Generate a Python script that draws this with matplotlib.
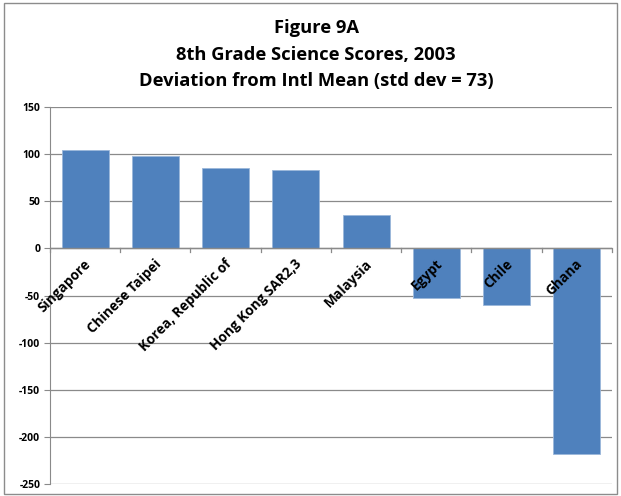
import matplotlib
matplotlib.use("Agg")
import matplotlib.pyplot as plt
from matplotlib.patches import Rectangle

countries = ["Singapore", "Chinese Taipei", "Korea, Republic of", "Hong Kong SAR2,3",
             "Malaysia", "Egypt", "Chile", "Ghana"]
deviation = [105, 98, 85, 83, 36, -52, -60, -218]
yticks = [150, 100, 50, 0, -50, -100, -150, -200, -250]
title_lines = ["Figure 9A", "8th Grade Science Scores, 2003", "Deviation from Intl Mean (std dev = 73)"]

W, H = 621, 496
fig = plt.figure(figsize=(W / 100, H / 100), dpi=100)
fig.patches.append(Rectangle((0.006, 0.004), 0.988, 0.99, transform=fig.transFigure,
                             fill=False, edgecolor="#8c8c8c", linewidth=1.0))
ax = fig.add_axes([0.0805, 0.024, 0.905, 0.760])

x = list(range(len(countries)))
ax.bar(x, deviation, width=0.67, color="#4F81BD", edgecolor="#9BB7DA", linewidth=0.6, zorder=3)
ax.set_xlim(-0.5, len(countries) - 0.5)
ax.set_ylim(-250, 150)
ax.set_yticks(yticks)
ax.set_yticklabels([str(v) for v in yticks], fontsize=7.5, fontweight="bold", family="Open Sans")
ax.grid(axis="y", color="#8a8a8a", linewidth=0.9, zorder=0)
for s in ["top", "right", "bottom"]:
    ax.spines[s].set_visible(False)
ax.spines["left"].set_color("#8a8a8a")
ax.tick_params(axis="y", length=4, color="#8a8a8a", pad=3)
ax.set_xticks([])

# zero axis with category boundary ticks
ax.axhline(0, color="#8a8a8a", linewidth=1.0, zorder=4)
for b in range(len(countries) + 1):
    ax.plot([b - 0.5, b - 0.5], [0, -4], color="#8a8a8a", linewidth=0.9, zorder=4, clip_on=False)

for i, name in enumerate(countries):
    ax.annotate(name, xy=(i, 0), xytext=(-1, -6), textcoords="offset points",
                rotation=45, ha="right", va="top", rotation_mode="anchor",
                fontsize=9.8, fontweight="bold", family="Open Sans", zorder=5)

for line, ypx in zip(title_lines, [33, 59.5, 86]):
    fig.text(0.509, 1 - ypx / H, line, ha="center", va="baseline", fontsize=13.2,
             fontweight="bold", family="Open Sans")

fig.savefig("out.png", dpi=100)
